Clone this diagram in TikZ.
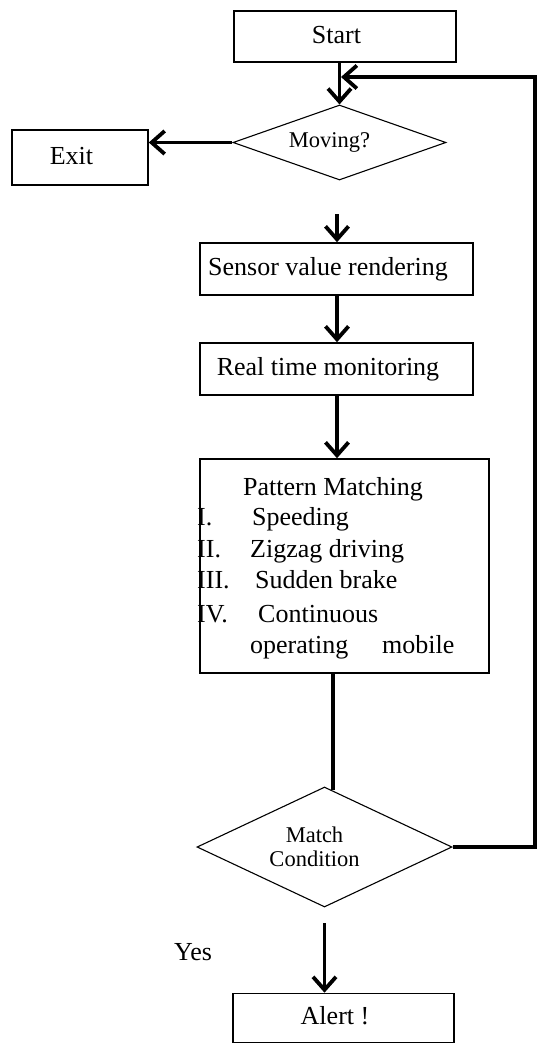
\documentclass[tikz,border=0pt]{standalone}
\usepackage{fontspec}
\setmainfont{Liberation Serif}
\usetikzlibrary{shapes.geometric,arrows.meta}
\begin{document}
\begin{tikzpicture}[x=1pt,y=-1pt,
  box/.style={draw, line width=1.6pt, inner sep=0pt, text height=18pt, text depth=5pt,
    font=\fontsize{26}{30}\selectfont, execute at begin node={\hspace*{-17pt}}},
  dec/.style={draw, diamond, line width=1.1pt, inner sep=0pt},
  dtxt/.style={font=\fontsize{22.5}{24}\selectfont, inner sep=0pt, align=center},
  txt/.style={font=\fontsize{26}{30}\selectfont, inner sep=0pt, anchor=base west},
  arr/.style={line width=3.8pt, -{Straight Barb[length=13pt,width=23pt]}},
  flow/.style={line width=3.8pt},
]
\useasboundingbox (0,0) rectangle (538,1044);

% boxes and decisions
\node[box, minimum width=222pt, minimum height=51pt] (start) at (345,36.5) {Start};
\node[dec, minimum width=213pt, minimum height=75pt,
      label={[dtxt,xshift=-10pt]center:Moving?}] (mov) at (339.5,142.5) {};
\node[box, minimum width=136pt, minimum height=55pt] (exit) at (80,157.5) {Exit};
\node[box, minimum width=273pt, minimum height=52pt] (sens) at (336.5,269) {Sensor value rendering};
\node[box, minimum width=273pt, minimum height=52pt] (rt) at (336.5,369) {Real time monitoring};
\node[box, minimum width=289pt, minimum height=214pt] (pat) at (344.5,566) {};
\node[dec, minimum width=255pt, minimum height=120pt,
      label={[dtxt,xshift=-10pt]center:Match\\Condition}] (match) at (324.5,847) {};
\node[box, minimum width=221pt, minimum height=49pt] (alert) at (343.5,1018) {Alert !};
\node[txt, anchor=base] (yes) at (193,960) {Yes};

% contents of the pattern box
\node[txt, anchor=base] (ptitle) at (333,495) {Pattern Matching};
\node[txt] (n1) at (197,525) {I.};
\node[txt] (i1) at (252,525) {Speeding};
\node[txt] (n2) at (197,557) {II.};
\node[txt] (i2) at (250,557) {Zigzag driving};
\node[txt] (n3) at (197,588) {III.};
\node[txt] (i3) at (255,588) {Sudden brake};
\node[txt] (n4) at (197,622) {IV.};
\node[txt] (i4) at (258,622) {Continuous};
\node[txt] (i5) at (250,653) {operating};
\node[txt] (i6) at (382,653) {mobile};

% connectors
\coordinate (gap) at (337,214);
\coordinate (mtop) at (333,790);
\coordinate (fbtop) at (535,77);
\coordinate (fbin) at (341,77);
\coordinate (ys) at (324.5,923);

\draw[arr] (start.south -| mov.north) -- (mov.north);
\draw[arr] (mov.west) -- (mov.west -| exit.east);
\draw[arr] (gap) -- (gap |- sens.north);
\draw[arr] (sens.south -| gap) -- (gap |- rt.north);
\draw[arr] (rt.south -| gap) -- (gap |- pat.north);
\draw[flow] (pat.south -| mtop) -- (mtop);
\draw[arr] (match.east) -| (fbtop) -- (fbin);
\draw[arr] (ys) -- (ys |- alert.north);
\end{tikzpicture}
\end{document}
